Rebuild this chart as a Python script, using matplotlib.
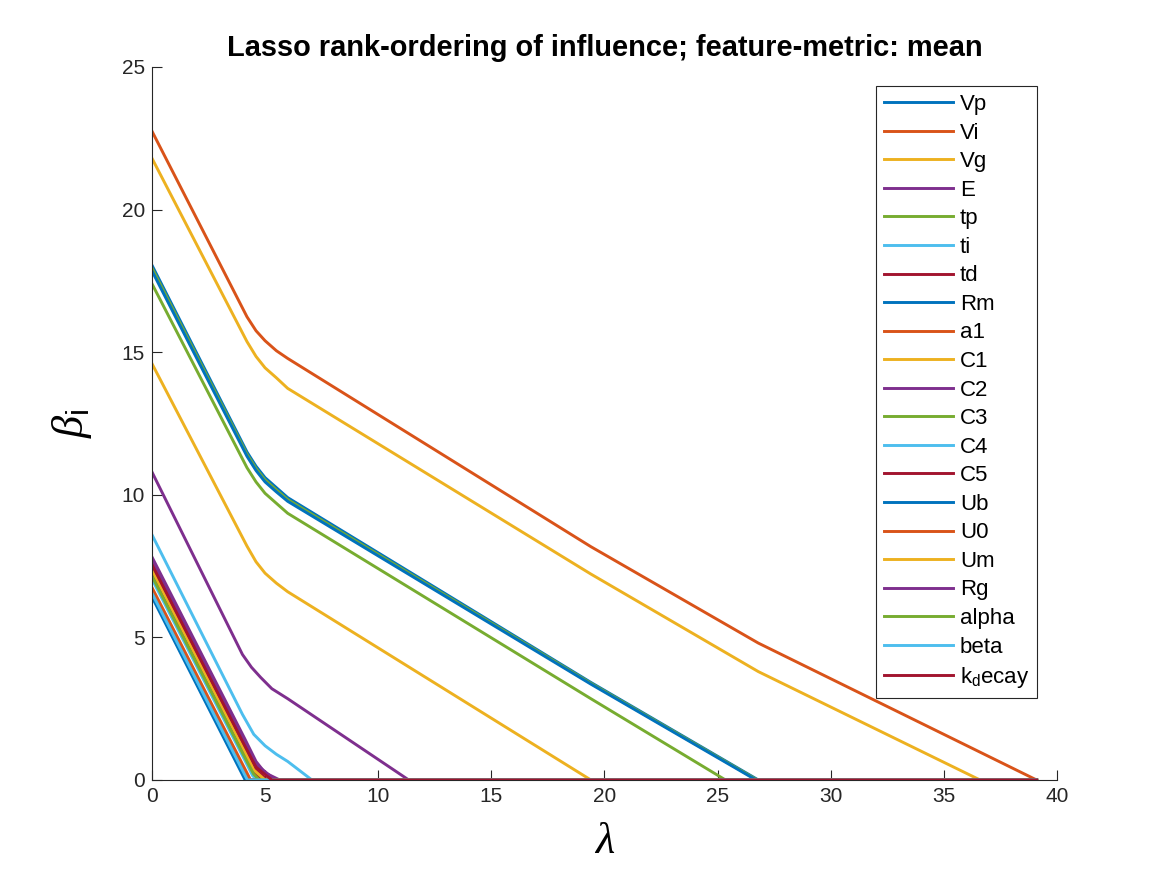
import numpy as np
import matplotlib
matplotlib.use("Agg")
import matplotlib.pyplot as plt

plt.rcParams['font.family'] = ['Liberation Sans', 'DejaVu Sans']
plt.rcParams['mathtext.fontset'] = 'custom'
plt.rcParams['mathtext.rm'] = 'Liberation Serif'
plt.rcParams['mathtext.it'] = 'Liberation Serif:italic'
plt.rcParams['mathtext.sf'] = 'Liberation Sans'

# MATLAB default colour order
c_blue = '#0072BD'
c_orange = '#D95319'
c_yellow = '#EDB120'
c_purple = '#7E2F8E'
c_green = '#77AC30'
c_lblue = '#4DBEEE'
c_dred = '#A2142F'

names = ['Vp', 'Vi', 'Vg', 'E', 'tp', 'ti', 'td', 'Rm', 'a1', 'C1', 'C2',
         'C3', 'C4', 'C5', 'Ub', 'U0', 'Um', 'Rg', 'alpha', 'beta',
         r'k$_\mathsf{d}$ecay']
colors = [c_blue, c_orange, c_yellow, c_purple, c_green, c_lblue, c_dred] * 3

lam_max = 39.1

# lasso path: (lambda, beta) knots per feature
lam_pts = [
    [0, 4.2, 4.6, 5.0, 5.5, 6.0, 19.4, 26.8, lam_max],    # Vp
    [0, 4.2, 4.6, 5.0, 5.5, 6.0, 19.4, 26.8, lam_max],    # Vi
    [0, 4.2, 4.6, 5.0, 5.5, 6.0, 19.4, 26.8, 36.6, lam_max],  # Vg
    [0, 4.0, 4.4, 4.8, 5.3, 6.0, 11.35, lam_max],         # E
    [0, 4.2, 4.6, 5.0, 5.5, 6.0, 19.4, 26.75, lam_max],   # tp
    [0, 4.0, 4.5, 5.0, 5.5, 6.0, 7.07, lam_max],          # ti
    [0, 4.1, 4.5, 5.1, lam_max],                          # td
    [0, 4.2, 4.6, 5.0, 5.5, 6.0, 19.4, 26.7, lam_max],    # Rm
    [0, 4.36, lam_max],                                   # a1
    [0, 4.2, 4.6, 5.0, 5.5, 6.0, 19.4, lam_max],          # C1
    [0, 4.1, 4.6, 5.0, 5.65, lam_max],                    # C2
    [0, 4.2, 4.6, 5.0, 5.5, 6.0, 19.4, 25.35, lam_max],   # C3
    [0, 4.1, 4.45, 4.65, lam_max],                        # C4
    [0, 4.1, 4.5, 4.9, lam_max],                          # C5
    [0, 4.12, lam_max],                                   # Ub
    [0, 4.3, lam_max],                                    # U0
    [0, 4.1, 4.5, 5.0, lam_max],                          # Um
    [0, 4.1, 4.6, 5.45, lam_max],                         # Rg
    [0, 4.1, 4.5, 4.75, lam_max],                         # alpha
    [0, 4.22, lam_max],                                   # beta
    [0, 4.1, 4.6, 5.3, lam_max],                          # k_decay
]
beta_pts = [
    [18.05, 11.5, 11.0, 10.6, 10.25, 9.9, 3.42, 0, 0],
    [22.75, 16.24, 15.75, 15.4, 15.05, 14.78, 8.18, 4.8, 0],
    [21.8, 15.37, 14.85, 14.45, 14.1, 13.73, 7.22, 3.8, 0, 0],
    [10.8, 4.4, 3.95, 3.6, 3.2, 2.85, 0, 0],
    [17.95, 11.42, 10.92, 10.52, 10.17, 9.83, 3.39, 0, 0],
    [8.6, 2.3, 1.6, 1.2, 0.9, 0.65, 0, 0],
    [7.45, 1.1, 0.42, 0, 0],
    [17.85, 11.35, 10.85, 10.45, 10.1, 9.77, 3.36, 0, 0],
    [6.75, 0, 0],
    [14.6, 8.2, 7.65, 7.25, 6.9, 6.6, 0, 0],
    [7.82, 1.45, 0.65, 0.25, 0, 0],
    [17.4, 10.95, 10.45, 10.05, 9.7, 9.35, 2.85, 0, 0],
    [7.05, 0.7, 0.15, 0, 0],
    [7.28, 0.92, 0.3, 0, 0],
    [6.42, 0, 0],
    [6.66, 0, 0],
    [7.36, 1.0, 0.35, 0, 0],
    [7.68, 1.32, 0.55, 0, 0],
    [7.15, 0.8, 0.2, 0, 0],
    [6.55, 0, 0],
    [7.55, 1.2, 0.45, 0, 0],
]

fig = plt.figure(figsize=(11.67, 8.75), dpi=100)
ax = fig.add_axes([0.1302, 0.1086, 0.7755, 0.8149])

for lam, b, name, col in zip(lam_pts, beta_pts, names, colors):
    ax.plot(lam, b, color=col, lw=2.1, label=name, solid_joinstyle='round')

ax.set_xlim(0, 40)
ax.set_ylim(0, 25)
ax.set_xticks(np.arange(0, 41, 5))
ax.set_yticks(np.arange(0, 26, 5))

axcol = '#262626'
for s in ['top', 'right']:
    ax.spines[s].set_visible(False)
for s in ['left', 'bottom']:
    ax.spines[s].set_color(axcol)
    ax.spines[s].set_linewidth(0.8)
ax.tick_params(direction='in', length=7, width=0.8, colors=axcol,
               labelsize=15, pad=5)

ax.set_title('Lasso rank-ordering of influence; feature-metric: mean',
             fontsize=20.9, fontweight='bold', pad=8)
ax.set_xlabel(r'$\lambda$', fontsize=32, labelpad=11)
ax.set_ylabel(r'$\beta_\mathsf{i}$', fontsize=32, labelpad=20)

leg = ax.legend(loc='upper right', bbox_to_anchor=(0.978, 0.973),
                borderaxespad=0, fontsize=16, handlelength=3.1,
                labelspacing=0.34, handletextpad=0.3, borderpad=0.35,
                fancybox=False, framealpha=1, edgecolor=axcol)
leg.get_frame().set_linewidth(0.8)

fig.savefig('out.png', dpi=100)
